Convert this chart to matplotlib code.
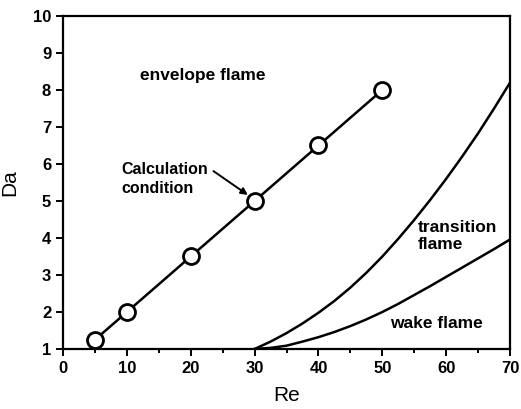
import matplotlib.pyplot as plt
from matplotlib.ticker import MultipleLocator

plt.rcParams['font.family'] = ['Liberation Sans', 'DejaVu Sans']

# calculation conditions
re_calc = [5, 10, 20, 30, 40, 50]
da_calc = [1.25, 2.0, 3.5, 5.0, 6.5, 8.0]

# boundary curves
re_curve = [30, 32.5, 35, 37.5, 40, 42.5, 45, 47.5, 50, 52.5, 55, 57.5,
            60, 62.5, 65, 67.5, 70]
da_transition = [1.0, 1.2, 1.43, 1.69, 1.98, 2.3, 2.66, 3.06, 3.5, 3.98,
                 4.49, 5.03, 5.6, 6.2, 6.83, 7.5, 8.2]
da_wake = [1.0, 1.03, 1.09, 1.2, 1.32, 1.46, 1.62, 1.8, 2.0, 2.22, 2.46,
           2.7, 2.95, 3.2, 3.45, 3.7, 3.96]

fig = plt.figure(figsize=(5.21, 4.09), dpi=100)
ax = fig.add_axes([0.121, 0.1467, 0.858, 0.8143])

ax.plot(re_calc, da_calc, color='black', lw=1.8, marker='o', ms=11.5,
        mfc='white', mec='black', mew=2.0, zorder=3)
ax.plot(re_curve, da_transition, color='black', lw=1.8)
ax.plot(re_curve, da_wake, color='black', lw=1.8)

ax.set_xlim(0, 70)
ax.set_ylim(1, 10)
ax.xaxis.set_major_locator(MultipleLocator(10))
ax.xaxis.set_minor_locator(MultipleLocator(5))
ax.yaxis.set_major_locator(MultipleLocator(1))
ax.tick_params(which='both', direction='out', top=False, right=False,
               labelsize=12, width=1.4)
ax.tick_params(which='major', length=5)
ax.tick_params(which='minor', length=3)
for lab in ax.get_xticklabels() + ax.get_yticklabels():
    lab.set_fontweight('bold')
for s in ax.spines.values():
    s.set_linewidth(1.6)

ax.set_xlabel('Re', fontsize=15, labelpad=7)
ax.set_ylabel('Da', fontsize=15, labelpad=10)

ax.text(21.9, 8.4, 'envelope flame', fontsize=12.5, fontweight='bold',
        ha='center', va='center')
ax.text(9.2, 5.6, 'Calculation\ncondition', fontsize=11.5, fontweight='bold',
        ha='left', va='center', linespacing=1.3)
ax.annotate('', xy=(29.3, 5.12), xytext=(23.2, 5.85),
            arrowprops=dict(arrowstyle='-|>', color='black', lw=1.4,
                            mutation_scale=10))
ax.text(55.6, 4.05, 'transition\nflame', fontsize=12.5, fontweight='bold',
        ha='left', va='center', linespacing=1.2)
ax.text(51.2, 1.68, 'wake flame', fontsize=12.5, fontweight='bold',
        ha='left', va='center')

fig.savefig('out.png', dpi=100)
